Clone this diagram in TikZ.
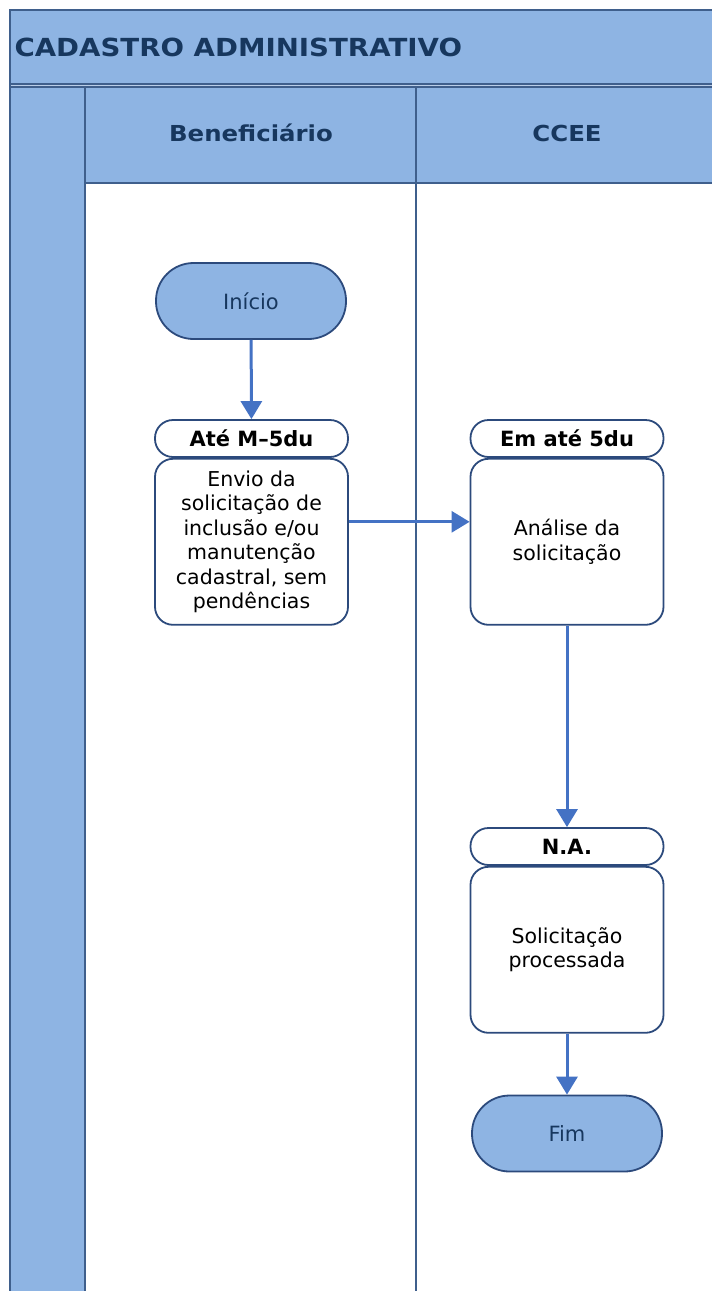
\documentclass[tikz,border=0pt]{standalone}
\usepackage{fontspec}
\setmainfont{DejaVu Sans}
\newfontfamily\lanefont{DejaVu Sans}[FakeStretch=1.11]
\usetikzlibrary{arrows.meta}
\usetikzlibrary{positioning}
\definecolor{lanefill}{HTML}{8EB4E3}
\definecolor{lanestrip}{HTML}{B9CDE8}
\definecolor{laneline}{HTML}{3F5F8C}
\definecolor{boxline}{HTML}{2C4A7C}
\definecolor{navytext}{HTML}{17375E}
\definecolor{flowblue}{HTML}{4472C4}

\begin{document}
\begin{tikzpicture}[x=1pt,y=-1pt,
  lane/.style={draw=laneline, line width=1.5pt},
  term/.style={draw=boxline, line width=1.8pt, fill=lanefill, rounded corners=37.5pt, minimum width=190pt, minimum height=76pt, text=navytext, font=\fontsize{21}{24}\selectfont},
  hdr/.style={draw=boxline, line width=1.8pt, fill=white, rounded corners=18pt, minimum width=193pt, minimum height=37pt, inner sep=0pt, font=\bfseries\fontsize{21}{24}\selectfont},
  task/.style={draw=boxline, line width=1.8pt, fill=white, rounded corners=18pt, minimum width=193pt, minimum height=166pt, inner sep=0pt, align=center, font=\fontsize{20.5}{24.5}\selectfont},
  flow/.style={draw=flowblue, line width=3pt, -{Triangle[width=21pt,length=18pt]}}]
\useasboundingbox (0,0) rectangle (712,1291);
% swimlane frame
\fill[lanefill] (10,10) rectangle (712,84);
\fill[lanestrip] (10,84) rectangle (712,87);
\fill[lanefill] (10,87) rectangle (85,1291);
\fill[lanefill] (85,87) rectangle (712,183);
\draw[lane] (712,10) -- (10,10) -- (10,1291);
\draw[lane] (10,84) -- (712,84);
\draw[lane] (10,87) -- (712,87);
\draw[lane] (85,87) -- (85,1291);
\draw[lane] (416,87) -- (416,1291);
\draw[lane] (85,183) -- (712,183);
\node[anchor=west, text=navytext, font=\lanefont\bfseries\fontsize{24.9}{28}\selectfont] (title) at (11,47) {CADASTRO ADMINISTRATIVO};
\node[text=navytext, font=\lanefont\bfseries\fontsize{22}{24}\selectfont] (laneA) at (251,133) {Beneficiário};
\node[text=navytext, font=\lanefont\bfseries\fontsize{22}{24}\selectfont] (laneB) at (567,133) {CCEE};

% flow
\node[term] (start) at (251,301) {Início};
\node[hdr] (hdrA) at (251.5,438.5) {Até M–5du};
\node[task, below=0pt of hdrA] (taskA) {Envio da\\solicitação de\\inclusão e/ou\\manutenção\\cadastral, sem\\pendências};
\node[hdr] (hdrB) at (567,438.5) {Em até 5du};
\node[task, below=0pt of hdrB] (taskB) {Análise da\\solicitação};
\node[hdr] (hdrC) at (567,846.5) {N.A.};
\node[task, below=0pt of hdrC] (taskC) {Solicitação\\processada};
\node[term] (stop) at (567,1133.5) {Fim};

\draw[flow] (start) -- (hdrA);
\draw[flow] ([yshift=20pt]taskA.east) -- ([yshift=20pt]taskB.west);
\draw[flow] (taskB) -- (hdrC);
\draw[flow] (taskC) -- (stop);
\end{tikzpicture}
\end{document}
